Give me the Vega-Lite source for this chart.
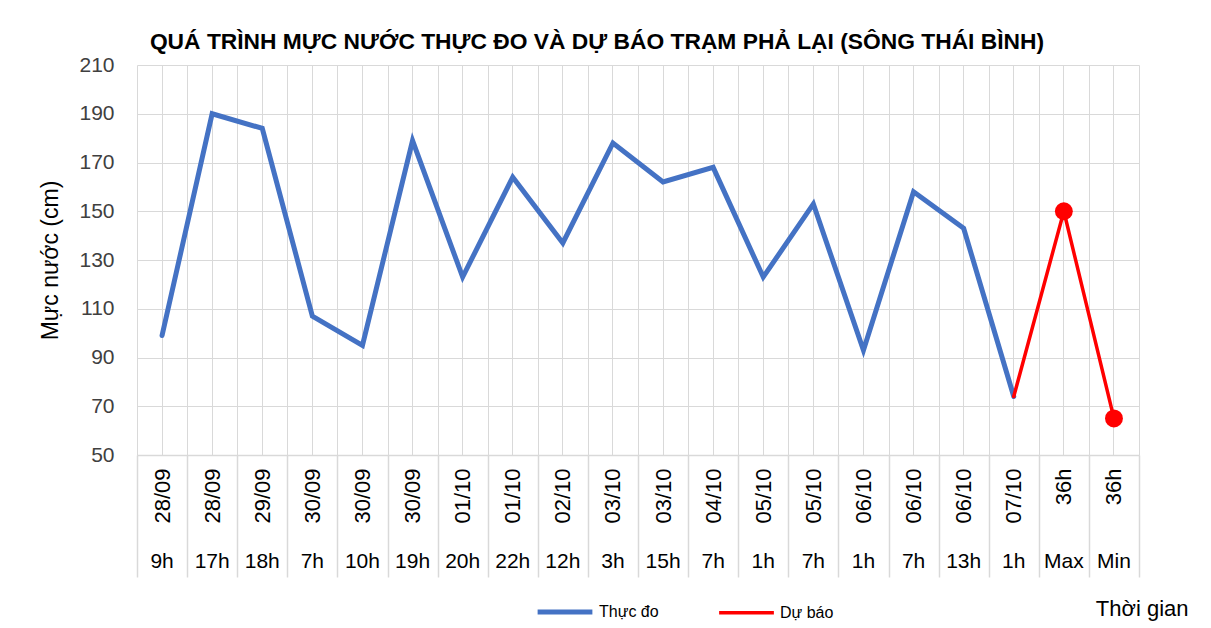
{
  "$schema": "https://vega.github.io/schema/vega-lite/v6.json",
  "width": 1002,
  "height": 390,
  "autosize": "none",
  "padding": {"left": 137, "top": 65, "right": 72, "bottom": 173},
  "background": "white",
  "config": {
    "font": "Liberation Sans",
    "view": {"stroke": null}
  },
  "title": {
    "text": "QUÁ TRÌNH MỰC NƯỚC THỰC ĐO VÀ DỰ BÁO TRẠM PHẢ LẠI (SÔNG THÁI BÌNH)",
    "font": "Liberation Sans",
    "fontSize": 22.8,
    "fontWeight": "bold",
    "color": "#000000",
    "anchor": "middle",
    "dx": -41,
    "dy": 12,
    "offset": 12
  },
  "data": {
    "values": [
      {"key": "01|28/09|9h", "date": "28/09", "hour": "9h", "series": "Thực đo", "value": 99},
      {"key": "02|28/09|17h", "date": "28/09", "hour": "17h", "series": "Thực đo", "value": 190},
      {"key": "03|29/09|18h", "date": "29/09", "hour": "18h", "series": "Thực đo", "value": 184},
      {"key": "04|30/09|7h", "date": "30/09", "hour": "7h", "series": "Thực đo", "value": 107},
      {"key": "05|30/09|10h", "date": "30/09", "hour": "10h", "series": "Thực đo", "value": 95},
      {"key": "06|30/09|19h", "date": "30/09", "hour": "19h", "series": "Thực đo", "value": 179},
      {"key": "07|01/10|20h", "date": "01/10", "hour": "20h", "series": "Thực đo", "value": 123},
      {"key": "08|01/10|22h", "date": "01/10", "hour": "22h", "series": "Thực đo", "value": 164},
      {"key": "09|02/10|12h", "date": "02/10", "hour": "12h", "series": "Thực đo", "value": 137},
      {"key": "10|03/10|3h", "date": "03/10", "hour": "3h", "series": "Thực đo", "value": 178},
      {"key": "11|03/10|15h", "date": "03/10", "hour": "15h", "series": "Thực đo", "value": 162},
      {"key": "12|04/10|7h", "date": "04/10", "hour": "7h", "series": "Thực đo", "value": 168},
      {"key": "13|05/10|1h", "date": "05/10", "hour": "1h", "series": "Thực đo", "value": 123},
      {"key": "14|05/10|7h", "date": "05/10", "hour": "7h", "series": "Thực đo", "value": 153},
      {"key": "15|06/10|1h", "date": "06/10", "hour": "1h", "series": "Thực đo", "value": 93},
      {"key": "16|06/10|7h", "date": "06/10", "hour": "7h", "series": "Thực đo", "value": 158},
      {"key": "17|06/10|13h", "date": "06/10", "hour": "13h", "series": "Thực đo", "value": 143},
      {"key": "18|07/10|1h", "date": "07/10", "hour": "1h", "series": "Thực đo", "value": 74},
      {"key": "18|07/10|1h", "date": "07/10", "hour": "1h", "series": "Dự báo", "value": 74},
      {"key": "19|36h|Max", "date": "36h", "hour": "Max", "series": "Dự báo", "value": 150},
      {"key": "20|36h|Min", "date": "36h", "hour": "Min", "series": "Dự báo", "value": 65}
    ]
  },
  "encoding": {
    "y": {
      "field": "value",
      "type": "quantitative",
      "scale": {"domain": [50, 210], "nice": false, "zero": false},
      "axis": {
        "values": [50, 70, 90, 110, 130, 150, 170, 190, 210],
        "title": "Mực nước (cm)",
        "titleFontSize": 23,
        "titleFontWeight": "normal",
        "titleColor": "#000000",
        "titlePadding": 16,
        "labelFontSize": 21,
        "labelColor": "#404040",
        "labelPadding": 23,
        "ticks": false,
        "domain": false,
        "grid": true,
        "gridColor": "#d9d9d9",
        "gridWidth": 1
      }
    }
  },
  "layer": [
    {
      "mark": {"type": "line", "strokeCap": "round", "strokeJoin": "miter"},
      "encoding": {
        "x": {
          "field": "key",
          "type": "nominal",
          "sort": "ascending",
          "scale": {"type": "band", "paddingInner": 0, "paddingOuter": 0},
          "axis": {
            "orient": "bottom",
            "title": null,
            "labelExpr": "split(datum.value, '|')[1]",
            "labelAngle": 270,
            "labelAlign": "right",
            "labelBaseline": "middle",
            "labelFontSize": 22,
            "labelColor": "#000000",
            "labelPadding": -109,
            "ticks": true,
            "tickBand": "extent",
            "tickSize": 122,
            "tickColor": "#d9d9d9",
            "tickWidth": 1.5,
            "grid": true,
            "gridColor": "#d9d9d9",
            "domain": true,
            "domainColor": "#d9d9d9",
            "domainWidth": 1.5
          }
        },
        "color": {
          "field": "series",
          "type": "nominal",
          "scale": {"domain": ["Thực đo", "Dự báo"], "range": ["#4472C4", "#FF0000"]},
          "legend": {
            "title": null,
            "orient": "none",
            "direction": "horizontal",
            "legendX": 398,
            "legendY": 517,
            "symbolType": "stroke",
            "symbolSize": 3000,
            "symbolStrokeWidth": 4,
            "labelFontSize": 16,
            "labelColor": "#000000",
            "labelOffset": 4,
            "columnPadding": 53
          }
        },
        "strokeWidth": {
          "field": "series",
          "type": "nominal",
          "scale": {"domain": ["Thực đo", "Dự báo"], "range": [5, 3.5]},
          "legend": null
        }
      }
    },
    {
      "transform": [{"filter": {"field": "hour", "oneOf": ["Max", "Min"]}}],
      "mark": {"type": "point", "filled": true, "color": "#FF0000", "opacity": 1, "size": 320},
      "encoding": {
        "x": {
          "field": "key",
          "type": "nominal",
          "sort": "ascending",
          "axis": {
            "orient": "bottom",
            "labelExpr": "split(datum.value, '|')[2]",
            "labelAngle": 0,
            "labelAlign": "center",
            "labelBaseline": "top",
            "labelFontSize": 21,
            "labelColor": "#000000",
            "labelPadding": 95,
            "ticks": false,
            "domain": false,
            "grid": true,
            "gridColor": "#d9d9d9",
            "title": "Thời gian",
            "titleFontSize": 22,
            "titleFontWeight": "normal",
            "titleColor": "#000000",
            "titleAnchor": null,
            "titleAlign": "right",
            "titleBaseline": "middle",
            "titleX": 1051,
            "titleY": 153
          }
        }
      }
    }
  ],
  "resolve": {"axis": {"x": "independent"}}
}
